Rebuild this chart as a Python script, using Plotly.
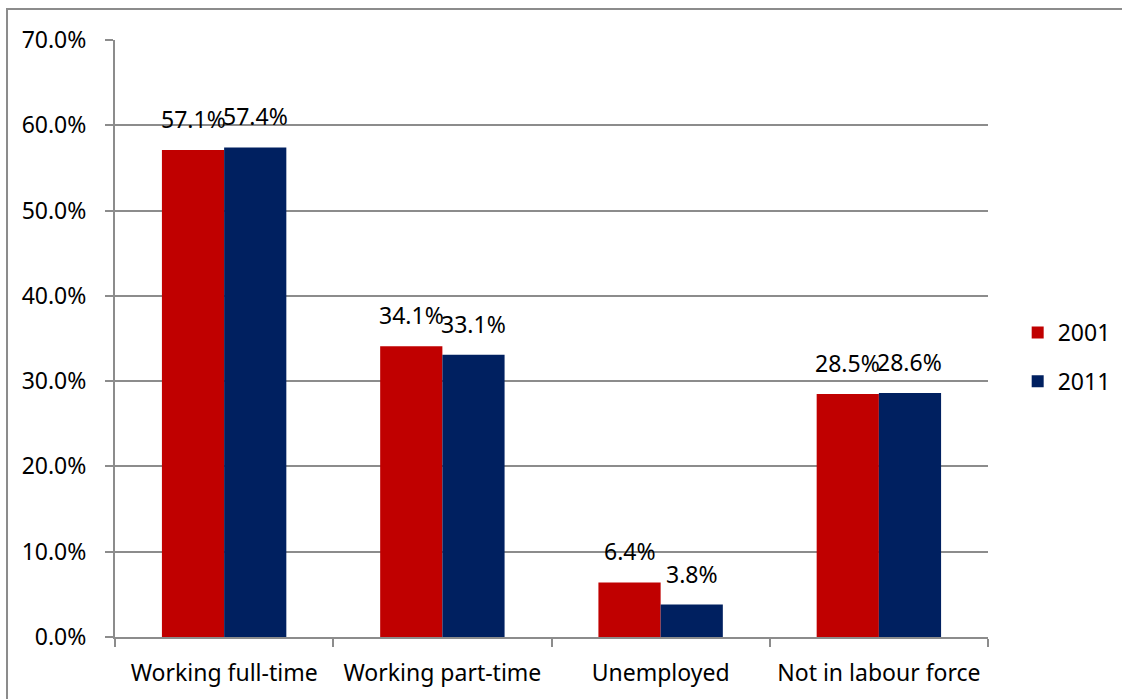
import plotly.graph_objects as go

categories = ["Working full-time", "Working part-time", "Unemployed", "Not in labour force"]
years = ["2001", "2011"]
values_2001 = [57.1, 34.1, 6.4, 28.5]
values_2011 = [57.4, 33.1, 3.8, 28.6]
y_ticks = [0, 10, 20, 30, 40, 50, 60, 70]

colors = {"2001": "#C00000", "2011": "#002060"}
series = {"2001": values_2001, "2011": values_2011}
grid = "#8c8c8c"
font_family = "Noto Sans, Open Sans, sans-serif"
fsize = 23

fig = go.Figure()
for i, yr in enumerate(years):
    fig.add_trace(go.Bar(
        x=categories, y=series[yr], name=yr,
        marker=dict(color=colors[yr], line=dict(width=0)),
        legendgroup=yr,
    ))

# value labels above each bar of the grouped pair
for i, yr in enumerate(years):
    shift = -31 if i == 0 else 31
    for c, v in zip(categories, series[yr]):
        fig.add_annotation(
            x=c, y=v, xref="x", yref="y", text=f"{v:.1f}%",
            showarrow=False, xshift=shift, yshift=13, yanchor="bottom",
            font=dict(size=fsize, color="#000000", family=font_family),
        )

# outer frame of the chart
fig.add_shape(type="rect", xref="paper", yref="paper",
              x0=-0.1237, y0=-0.2, x1=1.2, y1=1.0519,
              line=dict(color="#8c8c8c", width=2), fillcolor="rgba(0,0,0,0)", layer="below")

fig.update_layout(
    width=1122, height=699,
    margin=dict(l=115, r=134, t=40, b=62, autoexpand=False),
    paper_bgcolor="white", plot_bgcolor="white",
    font=dict(family=font_family, size=fsize, color="#000000"),
    barmode="group", bargap=0.43, bargroupgap=0,
    showlegend=True,
    legend=dict(x=1.034, y=0.469, xanchor="left", yanchor="middle",
                traceorder="grouped", tracegroupgap=16,
                font=dict(size=fsize, family=font_family),
                bgcolor="rgba(0,0,0,0)"),
    xaxis=dict(
        showgrid=False, showline=True, linecolor=grid, linewidth=2,
        ticks="outside", tickson="boundaries", ticklen=8, tickcolor=grid, tickwidth=2,
        ticklabelstandoff=14, tickfont=dict(size=fsize),
    ),
    yaxis=dict(
        range=[0, 70], tickvals=y_ticks, ticktext=[f"{t:.1f}%" for t in y_ticks],
        showgrid=True, gridcolor=grid, gridwidth=1.5,
        showline=True, linecolor=grid, linewidth=2,
        ticks="outside", ticklen=8, tickcolor=grid, tickwidth=1.5,
        ticklabelstandoff=14, tickfont=dict(size=fsize), zeroline=False,
    ),
)

fig.write_html("out.html")
